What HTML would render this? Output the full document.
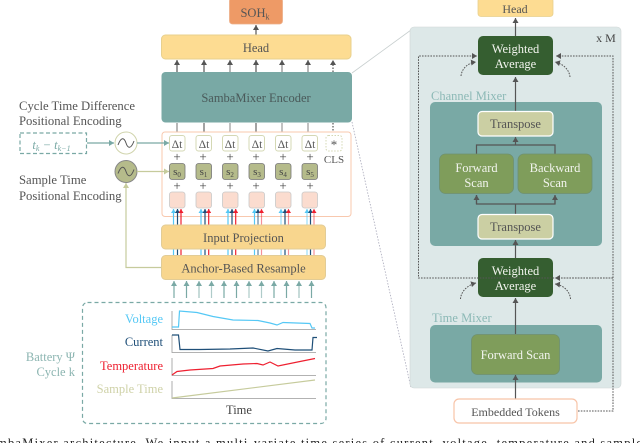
<!DOCTYPE html>
<html><head><meta charset="utf-8"><style>
html,body{margin:0;padding:0;background:#fff;width:640px;height:443px;overflow:hidden}
svg{display:block}
text{font-family:"Liberation Serif",serif;text-anchor:middle}
</style></head><body>
<svg width="640" height="443" viewBox="0 0 640 443" xmlns="http://www.w3.org/2000/svg" fill="#555">
<defs>
<marker id="a" markerUnits="userSpaceOnUse" markerWidth="6" markerHeight="6" refX="5" refY="3" orient="auto"><path d="M0,0L5,3L0,6z" fill="#555"/></marker>
<marker id="t" markerUnits="userSpaceOnUse" markerWidth="6" markerHeight="6" refX="5" refY="3" orient="auto"><path d="M0,0L5,3L0,6z" fill="#7aa9a5"/></marker>
<marker id="o" markerUnits="userSpaceOnUse" markerWidth="6" markerHeight="6" refX="5" refY="3" orient="auto"><path d="M0,0L5,3L0,6z" fill="#c6cb9c"/></marker>
<marker id="b" markerUnits="userSpaceOnUse" markerWidth="5" markerHeight="5" refX="4" refY="2.5" orient="auto"><path d="M0,0L4,2.5L0,5z" fill="#55c8f5"/></marker>
<marker id="d" markerUnits="userSpaceOnUse" markerWidth="5" markerHeight="5" refX="4" refY="2.5" orient="auto"><path d="M0,0L4,2.5L0,5z" fill="#1f4f78"/></marker>
<marker id="r" markerUnits="userSpaceOnUse" markerWidth="5" markerHeight="5" refX="4" refY="2.5" orient="auto"><path d="M0,0L4,2.5L0,5z" fill="#ee2030"/></marker>
</defs>
<rect width="640" height="443" fill="#fff"/>

<!-- connectors encoder to panel -->
<line x1="352" y1="73" x2="411" y2="30" stroke="#c8cfcf" stroke-width=".8"/>
<line x1="352" y1="122" x2="411" y2="388" stroke="#aab" stroke-width=".8" stroke-dasharray="1.5 1.5"/>

<!-- top -->
<rect x="229.500" y="-2" width="53" height="26" rx="3" fill="#ee9a66" stroke="#ecae88" stroke-width=".8"/>
<text x="255" y="17" font-size="12.500">SOH<tspan font-size="8" dy="2.500">k</tspan></text>
<line x1="256" y1="35" x2="256" y2="25" stroke="#555" stroke-width="1.200" marker-end="url(#a)"/>
<rect x="161.500" y="35" width="189.500" height="24" rx="4" fill="#fddc92" stroke="#e8d08e" stroke-width="1"/>
<text x="256" y="52" font-size="12.500">Head</text>
<g stroke-width="1.200">
<line x1="177" y1="72" x2="177" y2="60" stroke="#555" marker-end="url(#a)"/>
<line x1="204" y1="72" x2="204" y2="60" stroke="#555" marker-end="url(#a)"/>
<line x1="230" y1="72" x2="230" y2="60" stroke="#888" marker-end="url(#a)"/>
<line x1="256" y1="72" x2="256" y2="60" stroke="#555" marker-end="url(#a)"/>
<line x1="282" y1="72" x2="282" y2="60" stroke="#888" marker-end="url(#a)"/>
<line x1="308" y1="72" x2="308" y2="60" stroke="#888" marker-end="url(#a)"/>
<line x1="333" y1="72" x2="333" y2="60" stroke="#555" stroke-dasharray="1.500 1.500" marker-end="url(#a)"/>
</g>
<rect x="161.500" y="72" width="190.500" height="50.500" rx="4" fill="#79a9a5"/>
<text x="256" y="102" font-size="12.500" fill="#4a5a5a">SambaMixer Encoder</text>
<g stroke-width="1.200">
<line x1="177" y1="123" x2="177" y2="132" stroke="#888"/><line x1="204" y1="123" x2="204" y2="132" stroke="#666"/>
<line x1="230" y1="123" x2="230" y2="132" stroke="#999"/><line x1="256" y1="123" x2="256" y2="132" stroke="#666"/>
<line x1="282" y1="123" x2="282" y2="132" stroke="#999"/><line x1="308" y1="123" x2="308" y2="132" stroke="#999"/>
<line x1="333" y1="123" x2="333" y2="134" stroke="#555" stroke-dasharray="1.500 1.500"/>
</g>

<!-- token container -->
<rect x="162" y="132" width="189" height="84.500" rx="3" fill="#fff" stroke="#f8c8ae" stroke-width="1"/>
<g fill="#fff" stroke="#d4d8b4" stroke-width="1">
<rect x="169.500" y="135.500" width="15.500" height="15.500" rx="2.500"/><rect x="196" y="135.500" width="15.500" height="15.500" rx="2.500"/>
<rect x="222.500" y="135.500" width="15.500" height="15.500" rx="2.500"/><rect x="249" y="135.500" width="15.500" height="15.500" rx="2.500"/>
<rect x="275.500" y="135.500" width="15.500" height="15.500" rx="2.500"/><rect x="302" y="135.500" width="15.500" height="15.500" rx="2.500"/>
<rect x="326" y="135.500" width="16" height="15.500" rx="2.500" stroke-dasharray="1.500 1.500"/>
</g>
<g font-size="11.500">
<text x="177" y="148">Δt</text><text x="204" y="148">Δt</text><text x="230" y="148">Δt</text><text x="257" y="148">Δt</text><text x="283" y="148">Δt</text><text x="310" y="148">Δt</text>
</g>
<text x="334" y="149" font-size="13">*</text>
<text x="334" y="163" font-size="11">CLS</text>
<g font-size="13" fill="#444">
<text x="177" y="161">+</text><text x="203" y="161">+</text><text x="230" y="161">+</text><text x="256" y="161">+</text><text x="283" y="161">+</text><text x="310" y="161">+</text>
<text x="177" y="190">+</text><text x="203" y="190">+</text><text x="230" y="190">+</text><text x="256" y="190">+</text><text x="283" y="190">+</text><text x="310" y="190">+</text>
</g>
<g fill="#b5bb8b" stroke="#777" stroke-width=".8">
<rect x="169.500" y="163.500" width="15.500" height="16" rx="2.500"/><rect x="196" y="163.500" width="15.500" height="16" rx="2.500"/>
<rect x="222.500" y="163.500" width="15.500" height="16" rx="2.500"/><rect x="249" y="163.500" width="15.500" height="16" rx="2.500"/>
<rect x="275.500" y="163.500" width="15.500" height="16" rx="2.500"/><rect x="302" y="163.500" width="15.500" height="16" rx="2.500"/>
</g>
<g font-size="11" fill="#444">
<text x="177" y="175">s<tspan font-size="7" dy="2">0</tspan></text><text x="203.500" y="175">s<tspan font-size="7" dy="2">1</tspan></text>
<text x="230" y="175">s<tspan font-size="7" dy="2">2</tspan></text><text x="257" y="175">s<tspan font-size="7" dy="2">3</tspan></text>
<text x="283" y="175">s<tspan font-size="7" dy="2">4</tspan></text><text x="310" y="175">s<tspan font-size="7" dy="2">5</tspan></text>
</g>
<g fill="#fbdccf" stroke="#c9c9c9" stroke-width=".8">
<rect x="169.500" y="192" width="15.500" height="16" rx="2.500"/><rect x="196" y="192" width="15.500" height="16" rx="2.500"/>
<rect x="222.500" y="192" width="15.500" height="16" rx="2.500"/><rect x="249" y="192" width="15.500" height="16" rx="2.500"/>
<rect x="275.500" y="192" width="15.500" height="16" rx="2.500"/><rect x="302" y="192" width="15.500" height="16" rx="2.500"/>
</g>

<!-- coloured arrows -->
<g stroke-width="1.200" fill="none">
<g stroke="#55c8f5">
<path d="M173.500 255V209" marker-end="url(#b)"/><path d="M201 255V209" marker-end="url(#b)"/><path d="M228 255V209" marker-end="url(#b)"/><path d="M254.500 255V209" marker-end="url(#b)"/><path d="M281 255V209" stroke-opacity=".6" marker-end="url(#b)"/><path d="M307 255V209" stroke-opacity=".6" marker-end="url(#b)"/>
</g>
<g stroke="#1f4f78">
<path d="M177.500 255V209" marker-end="url(#d)"/><path d="M205 255V209" marker-end="url(#d)"/><path d="M232 255V209" marker-end="url(#d)"/><path d="M258 255V209" stroke-opacity=".7" marker-end="url(#d)"/><path d="M285 255V209" marker-end="url(#d)"/><path d="M310.500 255V209" marker-end="url(#d)"/>
</g>
<g stroke="#ee2030">
<path d="M181 255V209" marker-end="url(#r)"/><path d="M208.700 255V209" marker-end="url(#r)"/><path d="M235.700 255V209" marker-end="url(#r)"/><path d="M261.500 255V209" stroke-opacity=".5" marker-end="url(#r)"/><path d="M288.500 255V209" stroke-opacity=".5" marker-end="url(#r)"/><path d="M314 255V209" stroke-opacity=".5" marker-end="url(#r)"/>
</g>
</g>
<rect x="161.500" y="225" width="164" height="24" rx="4" fill="#f8d68e" stroke="#e2cc96" stroke-width="1"/>
<text x="243.500" y="242" font-size="12.500">Input Projection</text>
<rect x="161.500" y="255.500" width="164" height="24" rx="4" fill="#f8d68e" stroke="#e2cc96" stroke-width="1"/>
<text x="243.500" y="272.500" font-size="12.500">Anchor-Based Resample</text>

<g stroke="#7aa9a5" stroke-width="1.200">
<line x1="174" y1="298" x2="174" y2="281" marker-end="url(#t)"/><line x1="186.500" y1="298" x2="186.500" y2="281" marker-end="url(#t)"/>
<line x1="199" y1="298" x2="199" y2="281" stroke-opacity=".7" marker-end="url(#t)"/><line x1="211.500" y1="298" x2="211.500" y2="281" stroke-opacity=".6" marker-end="url(#t)"/>
<line x1="224" y1="298" x2="224" y2="281" marker-end="url(#t)"/><line x1="236.500" y1="298" x2="236.500" y2="281" marker-end="url(#t)"/>
<line x1="249" y1="298" x2="249" y2="281" stroke-opacity=".6" marker-end="url(#t)"/><line x1="261.500" y1="298" x2="261.500" y2="281" stroke-opacity=".6" marker-end="url(#t)"/>
<line x1="274" y1="298" x2="274" y2="281" marker-end="url(#t)"/><line x1="286.500" y1="298" x2="286.500" y2="281" marker-end="url(#t)"/>
<line x1="299" y1="298" x2="299" y2="281" stroke-opacity=".7" marker-end="url(#t)"/><line x1="311.500" y1="298" x2="311.500" y2="281" marker-end="url(#t)"/>
</g>

<!-- left positional encoding -->
<text x="19" y="110" font-size="12.700" style="text-anchor:start">Cycle Time Difference</text>
<text x="19" y="125" font-size="12.700" style="text-anchor:start">Positional Encoding</text>
<rect x="20" y="133" width="66.500" height="20.500" fill="none" stroke="#7aa9a5" stroke-width="1.200" stroke-dasharray="4 2.500"/>
<text x="51.500" y="149" font-size="12.500" font-style="italic" fill="#7aa9a5">t<tspan font-size="8" dy="2">k</tspan><tspan dy="-2"> − t</tspan><tspan font-size="8" dy="2">k−1</tspan></text>
<line x1="87" y1="143" x2="114" y2="143" stroke="#7aa9a5" stroke-width="1.300" marker-end="url(#t)"/>
<circle cx="126" cy="143" r="11" fill="#fff" stroke="#d0d4ac" stroke-width="1"/>
<path d="M118 145C121 137 124 137 126 143S131 149 134 141" fill="none" stroke="#555" stroke-width="1"/>
<line x1="137" y1="143" x2="169" y2="143" stroke="#7aa9a5" stroke-width="1.300" marker-end="url(#t)"/>
<circle cx="126" cy="171.500" r="11" fill="#b5bb8b" stroke="#888" stroke-width="1"/>
<path d="M118 173.500C121 165.500 124 165.500 126 171.500S131 177.500 134 169.500" fill="none" stroke="#555" stroke-width="1"/>
<line x1="137" y1="171.500" x2="169" y2="171.500" stroke="#c6cb9c" stroke-width="1.300" marker-end="url(#o)"/>
<text x="19" y="184" font-size="12.700" style="text-anchor:start">Sample Time</text>
<text x="19" y="200" font-size="12.700" style="text-anchor:start">Positional Encoding</text>
<path d="M161 267.500H126V183" fill="none" stroke="#c6cb9c" stroke-width="1.200" marker-end="url(#o)"/>

<!-- battery box -->
<rect x="82.500" y="302.500" width="243.500" height="121" rx="5" fill="none" stroke="#7aa9a5" stroke-width="1.200" stroke-dasharray="4 3"/>
<text x="75" y="361" font-size="12.500" fill="#8cb5b1" style="text-anchor:end">Battery Ψ</text>
<text x="75" y="376" font-size="12.500" fill="#8cb5b1" style="text-anchor:end">Cycle k</text>
<g font-size="12.500">
<text x="163" y="323" fill="#55c8f5" style="text-anchor:end">Voltage</text>
<text x="163" y="346" fill="#1f4f78" style="text-anchor:end">Current</text>
<text x="163" y="370" fill="#ee2030" style="text-anchor:end">Temperature</text>
<text x="163" y="393" fill="#cfd2a8" style="text-anchor:end">Sample Time</text>
</g>
<g fill="none" stroke="#999" stroke-width=".8">
<path d="M172 311V329.500H316"/><path d="M172 335V352.500H316"/><path d="M172 358V375.500H316"/><path d="M172 381V398.500H316"/>
</g>
<g fill="none" stroke-width="1.200">
<polyline stroke="#55c8f5" points="172,327 178.500,327 179.500,311 197,312.500 213,316.500 233,320 258,320.500 270,323 277,325 283,322.500 310,323.500 312,328 315,328"/>
<polyline stroke="#1f4f78" points="172,335 178.500,335 180,349.500 200,349.500 230,349 253,348 268,351 277,348.500 295,350 312,350 313,337.500 317,337.500"/>
<polyline stroke="#ee2030" points="172,375 177,371.500 190,370 213,368.500 220,366 243,364 257,363.500 263,365 270,362 278,366 300,361.500 315,358.500"/>
<line stroke="#c6cb9c" x1="172" y1="398" x2="315" y2="380"/>
</g>
<text x="239" y="414" font-size="12.500" fill="#444">Time</text>

<!-- right panel -->
<rect x="410" y="27" width="211" height="361" rx="4" fill="#dde8e8" stroke="#d0d6d6" stroke-width=".6"/>
<rect x="478" y="-2" width="75" height="18.500" rx="3" fill="#fddc92" stroke="#e8d08e" stroke-width=".8"/>
<text x="515" y="13" font-size="12">Head</text>
<text x="606" y="42" font-size="12" fill="#444">x M</text>
<line x1="515.500" y1="36" x2="515.500" y2="18" stroke="#555" stroke-width="1.200" marker-end="url(#a)"/>
<rect x="478" y="36" width="75" height="39" rx="5" fill="#355e30"/>
<text x="515.500" y="53" font-size="12.500" fill="#f2f4ee">Weighted</text>
<text x="515.500" y="68" font-size="12.500" fill="#f2f4ee">Average</text>
<text x="431" y="100" font-size="12.500" fill="#8cb9b6" style="text-anchor:start">Channel Mixer</text>
<rect x="430" y="102" width="172" height="144" rx="5" fill="#79a9a5"/>
<line x1="515.500" y1="111" x2="515.500" y2="77" stroke="#555" stroke-width="1.200" marker-end="url(#a)"/>
<rect x="478" y="111.500" width="75" height="24.500" rx="4" fill="#cbcfa3" stroke="#fff" stroke-width="1.200"/>
<text x="515.500" y="128" font-size="12.500">Transpose</text>
<path d="M476.500 154V145H555V154" fill="none" stroke="#555" stroke-width="1.200"/>
<line x1="515.500" y1="145" x2="515.500" y2="137" stroke="#555" stroke-width="1.200" marker-end="url(#a)"/>
<rect x="439.500" y="154" width="74" height="39.500" rx="6" fill="#7f9d5b" stroke="#6f9070" stroke-width=".8"/>
<rect x="518" y="154" width="74" height="39.500" rx="6" fill="#7f9d5b" stroke="#6f9070" stroke-width=".8"/>
<text x="476.500" y="172" font-size="12.500" fill="#f2f4ee">Forward</text>
<text x="476.500" y="187" font-size="12.500" fill="#f2f4ee">Scan</text>
<text x="555" y="172" font-size="12.500" fill="#f2f4ee">Backward</text>
<text x="555" y="187" font-size="12.500" fill="#f2f4ee">Scan</text>
<path d="M476.500 195V204H555V195" fill="none" stroke="#555" stroke-width="1.200"/>
<path d="M476.500 204V195" stroke="#555" stroke-width="1.200" marker-end="url(#a)"/>
<path d="M555 204V195" stroke="#555" stroke-width="1.200" marker-end="url(#a)"/>
<line x1="515.500" y1="214" x2="515.500" y2="204" stroke="#555" stroke-width="1.200"/>
<rect x="478" y="214.500" width="75" height="24.500" rx="4" fill="#cbcfa3" stroke="#fff" stroke-width="1.200"/>
<text x="515.500" y="231" font-size="12.500">Transpose</text>
<line x1="515.500" y1="258" x2="515.500" y2="240" stroke="#555" stroke-width="1.200" marker-end="url(#a)"/>
<rect x="478" y="258" width="75" height="39" rx="5" fill="#355e30"/>
<text x="515.500" y="275" font-size="12.500" fill="#f2f4ee">Weighted</text>
<text x="515.500" y="290" font-size="12.500" fill="#f2f4ee">Average</text>
<text x="432" y="322" font-size="12.500" fill="#8cb9b6" style="text-anchor:start">Time Mixer</text>
<rect x="430" y="325" width="172" height="57.500" rx="5" fill="#79a9a5"/>
<line x1="515.500" y1="334" x2="515.500" y2="298" stroke="#555" stroke-width="1.200" marker-end="url(#a)"/>
<rect x="471.500" y="334.500" width="88" height="40" rx="6" fill="#7f9d5b" stroke="#6f9070" stroke-width=".8"/>
<text x="515.500" y="359" font-size="12.500" fill="#f2f4ee">Forward Scan</text>
<line x1="515.500" y1="399" x2="515.500" y2="375" stroke="#555" stroke-width="1.200" marker-end="url(#a)"/>
<rect x="454" y="399" width="123" height="24" rx="5" fill="#fff" stroke="#f8c4a8" stroke-width="1.200"/>
<text x="515.500" y="416" font-size="12">Embedded Tokens</text>

<!-- dashed feedback -->
<g fill="none" stroke="#555" stroke-width="1" stroke-dasharray="1.600 1.200">
<path d="M578 411H613V56H556" marker-end="url(#a)"/>
<path d="M613 278H555" marker-end="url(#a)"/>
<path d="M613 278H418.500V56H477" marker-end="url(#a)"/>
<path d="M461 76C462 68 468 63 476 62" marker-end="url(#a)"/>
<path d="M570 77C569 69 563 64 555 62" marker-end="url(#a)"/>
<path d="M460.500 299C461 291 468 285 476 283" marker-end="url(#a)"/>
<path d="M570.500 299C570 291 563 285 555 284" marker-end="url(#a)"/>
</g>

<text x="-3" y="447" font-size="12.500" fill="#222" style="text-anchor:start" textLength="645">mbaMixer architecture. We input a multi-variate time series of current, voltage, temperature and sample</text>
</svg>
</body></html>
